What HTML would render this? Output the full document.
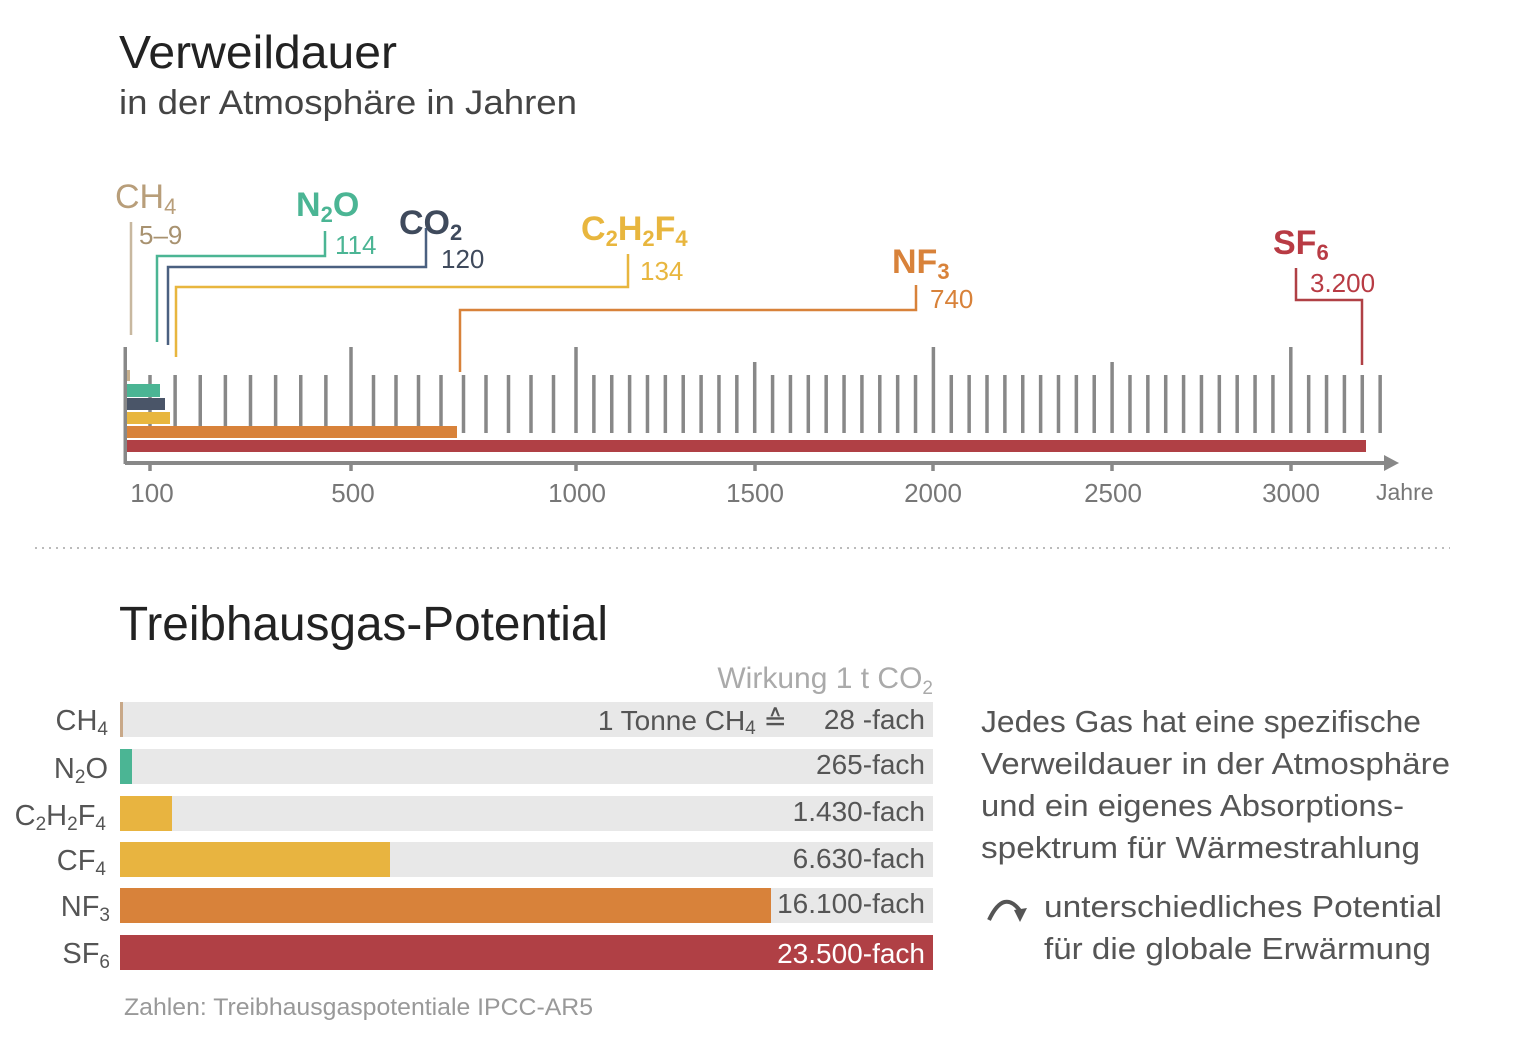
<!DOCTYPE html>
<html><head><meta charset="utf-8"><style>
html,body{margin:0;padding:0;background:#fff;}
svg{display:block;font-family:"Liberation Sans",sans-serif;}
</style></head><body>
<svg id="s" width="1536" height="1037" viewBox="0 0 1536 1037" xmlns="http://www.w3.org/2000/svg">
<text x="119" y="68" font-size="46" fill="#222" textLength="278" lengthAdjust="spacingAndGlyphs">Verweildauer</text>
<text x="119" y="114" font-size="34" fill="#444" textLength="458" lengthAdjust="spacingAndGlyphs">in der Atmosphäre in Jahren</text>

<g id="ticks" fill="#888"></g>

<!-- bars -->
<rect x="125" y="370" width="5" height="11" fill="#c8b08e"/>
<rect x="125" y="384" width="35" height="13" fill="#4bb594"/>
<rect x="125" y="398" width="40" height="12" fill="#4a5568"/>
<rect x="125" y="412" width="45" height="12" fill="#e8b63e"/>
<rect x="125" y="426" width="332" height="12" fill="#d8823a"/>
<rect x="125" y="440" width="1241" height="12" fill="#b04045"/>
<rect x="123.5" y="347" width="3.5" height="117" fill="#888"/>
<rect x="125" y="461" width="1262" height="4" fill="#888"/>
<polygon points="1384,455 1399,463 1384,471" fill="#888"/>

<!-- leaders -->
<g fill="none" stroke-width="2.5">
<path d="M131 222V335" stroke="#c8b8a0"/>
<path d="M157 342V256H325V231" stroke="#4bb594"/>
<path d="M168 345V267H426V228" stroke="#4a6080"/>
<path d="M176 357V287H628V254" stroke="#e8b63e"/>
<path d="M460 372V310H916V285" stroke="#d8823a"/>
<path d="M1362 365V300H1296V268" stroke="#b04045"/>
</g>

<g font-size="34">
<text x="115" y="208" fill="#b89e7a">CH<tspan font-size="22" dy="6">4</tspan></text>
<text x="296" y="216" fill="#4bb594" font-weight="bold">N<tspan font-size="22" dy="6">2</tspan><tspan dy="-6">O</tspan></text>
<text x="399" y="234" fill="#3f4a5c" font-weight="bold">CO<tspan font-size="22" dy="6">2</tspan></text>
<text x="581" y="240" fill="#e8b63e" font-weight="bold">C<tspan font-size="22" dy="6">2</tspan><tspan dy="-6">H</tspan><tspan font-size="22" dy="6">2</tspan><tspan dy="-6">F</tspan><tspan font-size="22" dy="6">4</tspan></text>
<text x="892" y="273" fill="#d8823a" font-weight="bold">NF<tspan font-size="22" dy="6">3</tspan></text>
<text x="1273" y="254" fill="#b83b44" font-weight="bold">SF<tspan font-size="22" dy="6">6</tspan></text>
</g>
<g font-size="26">
<text x="139" y="244" fill="#a89270">5–9</text>
<text x="335" y="254" fill="#4bb594">114</text>
<text x="441" y="268" fill="#3f4a5c">120</text>
<text x="640" y="280" fill="#e8b63e">134</text>
<text x="930" y="308" fill="#d8823a">740</text>
<text x="1310" y="292" fill="#b83b44">3.200</text>
</g>
<g font-size="26" fill="#777" text-anchor="middle">
<text x="152" y="502">100</text><text x="353" y="502">500</text><text x="577" y="502">1000</text>
<text x="755" y="502">1500</text><text x="933" y="502">2000</text><text x="1113" y="502">2500</text>
<text x="1291" y="502">3000</text>
</g>
<text x="1376" y="500" font-size="23" fill="#777">Jahre</text>

<line x1="35" y1="548" x2="1450" y2="548" stroke="#bbb" stroke-width="2" stroke-dasharray="2,5"/>

<text x="119" y="640" font-size="48" fill="#222" textLength="489" lengthAdjust="spacingAndGlyphs">Treibhausgas-Potential</text>
<text x="933" y="688" font-size="30" fill="#aaa" text-anchor="end">Wirkung 1 t CO<tspan font-size="19" dy="6">2</tspan></text>

<g>
<rect x="120" y="702" width="813" height="35" fill="#e8e8e8"/>
<rect x="120" y="749" width="813" height="35" fill="#e8e8e8"/>
<rect x="120" y="796" width="813" height="35" fill="#e8e8e8"/>
<rect x="120" y="842" width="813" height="35" fill="#e8e8e8"/>
<rect x="120" y="888" width="813" height="35" fill="#e8e8e8"/>
<rect x="120" y="702" width="3" height="35" fill="#c8a888"/>
<rect x="120" y="749" width="12" height="35" fill="#4bb594"/>
<rect x="120" y="796" width="52" height="35" fill="#e8b440"/>
<rect x="120" y="842" width="270" height="35" fill="#e8b440"/>
<rect x="120" y="888" width="651" height="35" fill="#d8823a"/>
<rect x="120" y="935" width="813" height="35" fill="#b04045"/>
</g>
<g font-size="29" fill="#555" text-anchor="end">
<text x="108" y="730">CH<tspan font-size="19" dy="5">4</tspan></text>
<text x="108" y="778">N<tspan font-size="19" dy="5">2</tspan><tspan dy="-5">O</tspan></text>
<text x="106" y="825">C<tspan font-size="19" dy="5">2</tspan><tspan dy="-5">H</tspan><tspan font-size="19" dy="5">2</tspan><tspan dy="-5">F</tspan><tspan font-size="19" dy="5">4</tspan></text>
<text x="106" y="870">CF<tspan font-size="19" dy="5">4</tspan></text>
<text x="110" y="916">NF<tspan font-size="19" dy="5">3</tspan></text>
<text x="110" y="963">SF<tspan font-size="19" dy="5">6</tspan></text>
</g>
<g font-size="28" fill="#555" text-anchor="end">
<text x="787" y="730">1 Tonne CH<tspan font-size="19" dy="4">4</tspan><tspan dy="-4"> ≙</tspan></text>
<text x="925" y="729">28 -fach</text>
<text x="925" y="774">265-fach</text>
<text x="925" y="821">1.430-fach</text>
<text x="925" y="868">6.630-fach</text>
<text x="925" y="913">16.100-fach</text>
<text x="925" y="963" fill="#fff">23.500-fach</text>
</g>
<text x="124" y="1015" font-size="24" fill="#999" textLength="469" lengthAdjust="spacingAndGlyphs">Zahlen: Treibhausgaspotentiale IPCC-AR5</text>

<g font-size="31" fill="#555">
<text x="981" y="732" textLength="440" lengthAdjust="spacingAndGlyphs">Jedes Gas hat eine spezifische</text>
<text x="981" y="774" textLength="469" lengthAdjust="spacingAndGlyphs">Verweildauer in der Atmosphäre</text>
<text x="981" y="816" textLength="423" lengthAdjust="spacingAndGlyphs">und ein eigenes Absorptions-</text>
<text x="981" y="858" textLength="439" lengthAdjust="spacingAndGlyphs">spektrum für Wärmestrahlung</text>
<text x="1044" y="917" textLength="398" lengthAdjust="spacingAndGlyphs">unterschiedliches Potential</text>
<text x="1044" y="959" textLength="387" lengthAdjust="spacingAndGlyphs">für die globale Erwärmung</text>
</g>
<path d="M989 920 Q1004 888 1021 912" fill="none" stroke="#555" stroke-width="4"/>
<polygon points="1014,910 1027,908 1020,922" fill="#555"/>
</svg>
<script>
var g=document.getElementById('ticks'),xs=[];
for(var i=0;i<=8;i++)xs.push([150+i*25.125,i==8?347:375]);
for(var i=1;i<=10;i++)xs.push([351+i*22.5,i==10?347:375]);
for(var i=1;i<=45;i++){var t=375;if(i==20||i==40)t=347;if(i==10||i==30)t=362;xs.push([576+i*17.87,t]);}
xs.forEach(function(p){var r=document.createElementNS('http://www.w3.org/2000/svg','rect');r.setAttribute('x',p[0]-1.75);r.setAttribute('y',p[1]);r.setAttribute('width',3.5);r.setAttribute('height',433-p[1]);g.appendChild(r);});
[150,351,576,755,933,1112,1291].forEach(function(x){var r=document.createElementNS('http://www.w3.org/2000/svg','rect');r.setAttribute('x',x-1.75);r.setAttribute('y',463);r.setAttribute('width',3.5);r.setAttribute('height',8);g.appendChild(r);});
</script>
</body></html>
